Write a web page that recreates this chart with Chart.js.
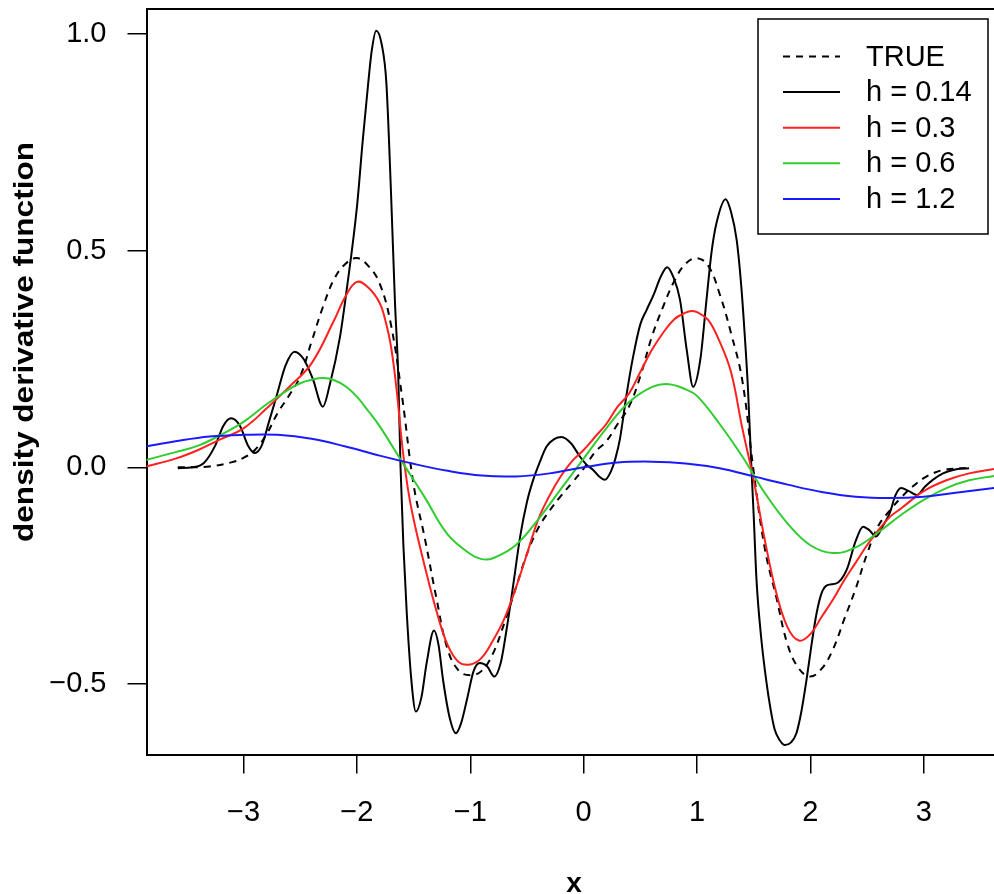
<!DOCTYPE html>
<html>
<head>
<meta charset="utf-8">
<script src="https://cdn.jsdelivr.net/npm/chart.js@4.4.1/dist/chart.umd.min.js"></script>
<style>
  html, body { margin: 0; padding: 0; background: #fff; overflow: hidden; }
  canvas { display: block; }
</style>
</head>
<body>
<canvas id="myChart" width="994" height="894"></canvas>
<script>
// series
var seriesLabels = ['TRUE', 'h = 0.14', 'h = 0.3', 'h = 0.6', 'h = 1.2'];
var xTicks = [-3, -2, -1, 0, 1, 2, 3];
var yTicks = [-0.5, 0, 0.5, 1.0];

var trueX = [-3.58, -3.3, -3.1, -3.0, -2.9, -2.8, -2.7, -2.6, -2.5, -2.4, -2.3, -2.2, -2.1, -2.0, -1.9, -1.8, -1.7, -1.6, -1.5, -1.4, -1.3, -1.2, -1.1, -1.0, -0.9, -0.8, -0.7, -0.6, -0.5, -0.4, -0.3, -0.2, -0.1, 0.0, 0.1, 0.2, 0.3, 0.4, 0.5, 0.6, 0.7, 0.8, 0.9, 1.0, 1.1, 1.2, 1.3, 1.4, 1.5, 1.6, 1.7, 1.8, 1.9, 2.0, 2.1, 2.2, 2.3, 2.4, 2.5, 2.6, 2.7, 2.8, 2.9, 3.0, 3.1, 3.2, 3.4];
var trueY = [0.0, 0.002, 0.012, 0.022, 0.04, 0.075, 0.125, 0.165, 0.21, 0.29, 0.37, 0.435, 0.47, 0.483, 0.465, 0.425, 0.33, 0.16, -0.04, -0.165, -0.30, -0.42, -0.47, -0.48, -0.47, -0.43, -0.36, -0.28, -0.2, -0.14, -0.10, -0.066, -0.035, -0.003, 0.035, 0.06, 0.10, 0.14, 0.21, 0.30, 0.37, 0.43, 0.47, 0.483, 0.465, 0.40, 0.31, 0.20, -0.01, -0.19, -0.30, -0.41, -0.465, -0.483, -0.465, -0.42, -0.35, -0.28, -0.20, -0.135, -0.10, -0.07, -0.045, -0.025, -0.012, -0.005, -0.001];

var h014X = [-3.58, -3.45, -3.35, -3.25, -3.18, -3.11, -3.03, -2.96, -2.90, -2.84, -2.77, -2.71, -2.63, -2.55, -2.47, -2.39, -2.30, -2.24, -2.15, -2.09, -2.00, -1.95, -1.91, -1.87, -1.83, -1.78, -1.74, -1.70, -1.665, -1.635, -1.615, -1.59, -1.56, -1.52, -1.48, -1.43, -1.385, -1.32, -1.28, -1.24, -1.18, -1.127, -1.08, -1.03, -0.97, -0.915, -0.85, -0.789, -0.73, -0.68, -0.62, -0.56, -0.50, -0.445, -0.39, -0.327, -0.26, -0.195, -0.11, -0.033, 0.03, 0.084, 0.14, 0.187, 0.24, 0.28, 0.32, 0.38, 0.437, 0.50, 0.555, 0.62, 0.68, 0.737, 0.79, 0.85, 0.91, 0.966, 1.03, 1.084, 1.13, 1.172, 1.252, 1.30, 1.35, 1.39, 1.42, 1.45, 1.48, 1.50, 1.525, 1.565, 1.61, 1.65, 1.686, 1.73, 1.775, 1.83, 1.877, 1.92, 1.966, 2.01, 2.055, 2.10, 2.15, 2.23, 2.32, 2.40, 2.465, 2.52, 2.58, 2.64, 2.70, 2.75, 2.80, 2.87, 2.94, 3.01, 3.08, 3.17, 3.26, 3.40];
var h014Y = [-0.002, 0.0, 0.01, 0.05, 0.095, 0.113, 0.095, 0.05, 0.033, 0.05, 0.11, 0.163, 0.235, 0.267, 0.25, 0.205, 0.14, 0.19, 0.30, 0.41, 0.60, 0.75, 0.86, 0.96, 1.008, 0.975, 0.887, 0.64, 0.387, 0.209, 0.0, -0.18, -0.337, -0.49, -0.564, -0.53, -0.452, -0.377, -0.41, -0.491, -0.58, -0.614, -0.59, -0.537, -0.47, -0.452, -0.46, -0.483, -0.45, -0.375, -0.27, -0.16, -0.08, -0.029, 0.01, 0.048, 0.065, 0.07, 0.055, 0.025, 0.005, -0.006, -0.022, -0.029, -0.01, 0.02, 0.065, 0.17, 0.256, 0.33, 0.363, 0.40, 0.44, 0.462, 0.44, 0.387, 0.27, 0.186, 0.25, 0.387, 0.50, 0.564, 0.619, 0.59, 0.525, 0.42, 0.31, 0.18, 0.0, -0.11, -0.26, -0.39, -0.491, -0.56, -0.606, -0.63, -0.641, -0.635, -0.614, -0.565, -0.491, -0.41, -0.337, -0.29, -0.272, -0.268, -0.237, -0.17, -0.137, -0.145, -0.16, -0.135, -0.106, -0.065, -0.048, -0.055, -0.064, -0.045, -0.029, -0.014, -0.006, -0.002];

var h03X = [-3.86, -3.6, -3.4, -3.2, -3.0, -2.8, -2.6, -2.4, -2.2, -2.1, -2.0, -1.9, -1.8, -1.75, -1.7, -1.65, -1.6, -1.55, -1.5, -1.4, -1.3, -1.2, -1.1, -1.0, -0.9, -0.8, -0.7, -0.6, -0.5, -0.4, -0.3, -0.2, -0.1, 0.0, 0.1, 0.2, 0.3, 0.4, 0.5, 0.6, 0.7, 0.8, 0.9, 0.95, 1.0, 1.1, 1.2, 1.3, 1.4, 1.5, 1.6, 1.7, 1.8, 1.9, 2.0, 2.1, 2.2, 2.3, 2.4, 2.5, 2.6, 2.7, 2.8, 3.0, 3.2, 3.4, 3.62];
var h03Y = [0.002, 0.02, 0.04, 0.065, 0.09, 0.135, 0.185, 0.24, 0.34, 0.395, 0.428, 0.415, 0.38, 0.34, 0.28, 0.18, 0.05, -0.05, -0.12, -0.23, -0.33, -0.41, -0.45, -0.455, -0.44, -0.40, -0.35, -0.28, -0.20, -0.12, -0.065, -0.02, 0.015, 0.04, 0.07, 0.10, 0.14, 0.17, 0.22, 0.27, 0.31, 0.342, 0.357, 0.361, 0.358, 0.34, 0.29, 0.22, 0.09, -0.03, -0.17, -0.29, -0.37, -0.40, -0.385, -0.345, -0.305, -0.26, -0.22, -0.18, -0.145, -0.115, -0.095, -0.055, -0.03, -0.014, -0.004];

var h06X = [-3.86, -3.6, -3.4, -3.2, -3.0, -2.8, -2.6, -2.5, -2.4, -2.3, -2.2, -2.1, -2.0, -1.9, -1.8, -1.6, -1.4, -1.2, -1.0, -0.9, -0.8, -0.6, -0.4, -0.2, 0.0, 0.2, 0.4, 0.6, 0.75, 0.9, 1.0, 1.2, 1.4, 1.6, 1.8, 2.0, 2.2, 2.4, 2.6, 2.8, 3.0, 3.2, 3.4, 3.62];
var h06Y = [0.017, 0.035, 0.05, 0.075, 0.105, 0.145, 0.18, 0.194, 0.202, 0.206, 0.201, 0.187, 0.163, 0.13, 0.095, 0.012, -0.07, -0.155, -0.2, -0.212, -0.21, -0.18, -0.12, -0.05, 0.02, 0.09, 0.15, 0.185, 0.192, 0.18, 0.165, 0.10, 0.025, -0.06, -0.13, -0.18, -0.198, -0.185, -0.15, -0.11, -0.075, -0.048, -0.03, -0.02];

var h12X = [-3.86, -3.6, -3.3, -3.0, -2.7, -2.4, -2.1, -1.8, -1.5, -1.2, -0.9, -0.6, -0.3, 0.0, 0.3, 0.6, 0.9, 1.2, 1.5, 1.8, 2.1, 2.4, 2.7, 3.0, 3.3, 3.62];
var h12Y = [0.048, 0.06, 0.071, 0.075, 0.075, 0.066, 0.048, 0.027, 0.008, -0.008, -0.019, -0.021, -0.014, 0.0, 0.011, 0.013, 0.009, -0.002, -0.021, -0.04, -0.057, -0.068, -0.071, -0.068, -0.058, -0.048];

function pontos(xs, ys) {
    var lista = [];
    for (var i = 0; i < xs.length; i++) {
        lista.push({ x: xs[i], y: ys[i] });
    }
    return lista;
}

function rotulo(v) {
    return v < 0 ? '\u2212' + Math.abs(v) : String(v);
}

var fonte = "'Liberation Sans', Arial, sans-serif";

// legend box, frame top line and axis titles are drawn here
var extras = {
    id: 'extras',
    afterDraw: function (chart) {
        var ctx = chart.ctx;
        var area = chart.chartArea;
        ctx.save();
        ctx.strokeStyle = '#000';
        ctx.lineWidth = 2;
        ctx.beginPath();
        ctx.moveTo(area.left, area.top);
        ctx.lineTo(area.right + 2, area.top);
        ctx.stroke();

        // legend
        ctx.fillStyle = '#fff';
        ctx.fillRect(758, 19, 230, 215);
        ctx.lineWidth = 1.5;
        ctx.strokeRect(758, 19, 230, 215);
        ctx.font = '29px ' + fonte;
        ctx.textBaseline = 'middle';
        ctx.textAlign = 'left';
        chart.data.datasets.forEach(function (ds, i) {
            var y = 56.5 + i * 35.6;
            ctx.strokeStyle = ds.borderColor;
            ctx.lineWidth = 2;
            ctx.setLineDash(ds.borderDash || []);
            ctx.beginPath();
            ctx.moveTo(783, y);
            ctx.lineTo(840, y);
            ctx.stroke();
            ctx.setLineDash([]);
            ctx.fillStyle = '#000';
            ctx.fillText(ds.label, 866, y + 1);
        });

        // axis titles
        ctx.fillStyle = '#000';
        ctx.font = 'bold 28px ' + fonte;
        ctx.textAlign = 'center';
        ctx.textBaseline = 'alphabetic';
        ctx.fillText('x', 574, 892);

        var titulo = 'density derivative function';
        var w = ctx.measureText(titulo).width;
        ctx.translate(33, 342);
        ctx.rotate(-Math.PI / 2);
        ctx.scale(400 / w, 1);
        ctx.fillText(titulo, 0, 0);
        ctx.restore();
    }
};

var ctx = document.getElementById('myChart');
var myChart = new Chart(ctx, {
    type: 'line',
    data: {
        datasets: [
            { label: seriesLabels[0], data: pontos(trueX, trueY), borderColor: '#000000', borderDash: [7, 6], order: 5, cubicInterpolationMode: 'default', tension: 0.4 },
            { label: seriesLabels[1], data: pontos(h014X, h014Y), borderColor: '#000000', order: 4 },
            { label: seriesLabels[2], data: pontos(h03X, h03Y), borderColor: '#ff2020', order: 3, cubicInterpolationMode: 'default', tension: 0.4 },
            { label: seriesLabels[3], data: pontos(h06X, h06Y), borderColor: '#30cc30', order: 2, cubicInterpolationMode: 'default', tension: 0.4 },
            { label: seriesLabels[4], data: pontos(h12X, h12Y), borderColor: '#1a1aff', order: 1, cubicInterpolationMode: 'default', tension: 0.4 }
        ]
    },
    options: {
        responsive: false,
        animation: false,
        layout: { padding: { left: 0, top: 9, right: 0, bottom: 0 } },
        elements: {
            point: { radius: 0 },
            line: { borderWidth: 2, cubicInterpolationMode: 'monotone', fill: false }
        },
        plugins: {
            legend: { display: false },
            title: { display: false },
            tooltip: { enabled: false }
        },
        scales: {
            x: {
                type: 'linear',
                min: -3.856,
                max: 3.62,
                afterFit: function (s) {
                    s.height = 139.5;
                    s.paddingLeft = 0;
                    s.paddingRight = 0;
                },
                afterBuildTicks: function (s) { s.ticks = xTicks.map(function (v) { return { value: v }; }); },
                grid: { drawOnChartArea: false, tickLength: 19, color: '#000', lineWidth: 1.5 },
                border: { display: true, color: '#000', width: 2 },
                ticks: {
                    color: '#000',
                    padding: 22,
                    font: { family: fonte, size: 29 },
                    callback: function (v) { return rotulo(v); }
                }
            },
            y: {
                type: 'linear',
                min: -0.663,
                max: 1.058,
                afterFit: function (s) {
                    s.width = 146.5;
                    s.paddingTop = 0;
                    s.paddingBottom = 0;
                },
                afterBuildTicks: function (s) { s.ticks = yTicks.map(function (v) { return { value: v }; }); },
                grid: { drawOnChartArea: false, tickLength: 19, color: '#000', lineWidth: 1.5 },
                border: { display: true, color: '#000', width: 2 },
                ticks: {
                    color: '#000',
                    padding: 21,
                    font: { family: fonte, size: 29 },
                    callback: function (v) { return rotulo(v.toFixed(1)); }
                }
            }
        }
    },
    plugins: [extras]
});
</script>
</body>
</html>
